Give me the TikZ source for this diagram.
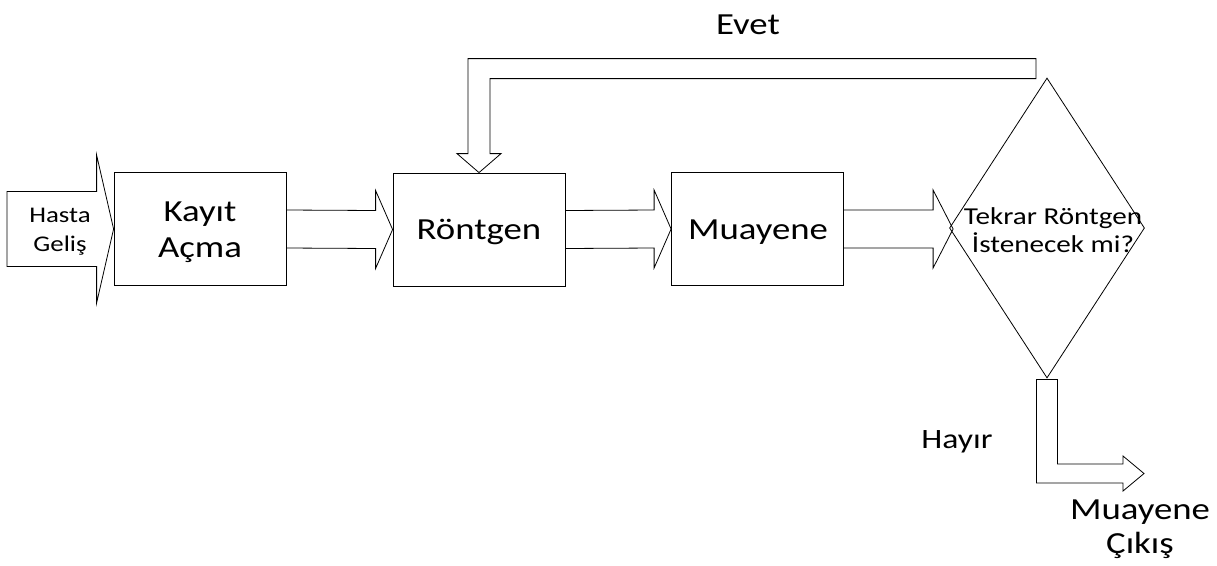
\documentclass[tikz,border=0pt]{standalone}
\usepackage{fontspec}
\setmainfont{Carlito}[FakeStretch=1.2]
\usetikzlibrary{calc,shapes.geometric}

% horizontal block arrow: #1 tail anchor, #2 tip anchor,
% #3 shaft half-width, #4 head half-width, #5 head length
\newcommand\hblockarrow[5]{%
  \draw[blk] ($(#1)+(0,-#3)$) -- ($(#2)+(-#5,-#3)$) -- ($(#2)+(-#5,-#4)$)
    -- (#2) -- ($(#2)+(-#5,#4)$) -- ($(#2)+(-#5,#3)$) -- ($(#1)+(0,#3)$);}

\begin{document}
\begin{tikzpicture}[x=0.75pt,y=-0.75pt,
  blk/.style={draw=black, line width=0.6pt, line join=miter},
  procbox/.style={draw=black, line width=0.6pt, minimum width=129pt,
    minimum height=84.75pt, inner sep=0pt},
  decision/.style={draw=black, line width=0.6pt, diamond, inner sep=0pt,
    minimum width=146.25pt, minimum height=225pt},
  lbl/.style={inner sep=0pt, align=center},
  big/.style={lbl, font=\fontsize{23}{27}\selectfont}]
\useasboundingbox (0,0) rectangle (1217,565);

% process steps
\node[procbox] (kayit) at (200,229) {};
\node[procbox] (ront) at (479,229.5) {};
\node[procbox] (muay) at (757.5,229) {};
\node[decision] (dia) at (1047,228) {};
\node[big] (tkayit) at (200,232) {Kayıt\\Açma};
\node[big] (tront) at (479,232) {Röntgen};
\node[big] (tmuay) at (758,232) {Muayene};
\node[lbl, font=\fontsize{18.2}{21.5}\selectfont] (q) at (1053,230)
  {Tekrar Röntgen\\İstenecek mi?};

% patient arrival arrow
\coordinate (in) at (7,229);
\draw[blk] ($(in)+(0,-37.5)$) -- ($(kayit.west)+(-17,-37.5)$)
  -- ($(kayit.west)+(-17,-74)$) -- (kayit.west)
  -- ($(kayit.west)+(-17,74)$) -- ($(kayit.west)+(-17,37.5)$)
  -- ($(in)+(0,37.5)$) -- cycle;
\node[lbl, font=\fontsize{16.8}{22}\selectfont] (hasta) at (60,232) {Hasta\\Geliş};

% flow between steps
\hblockarrow{kayit.east}{ront.west}{19}{39}{17}
\hblockarrow{ront.east}{muay.west}{19}{39}{17}
\coordinate (dtip) at ($(dia.west)+(4,1)$);
\hblockarrow{muay.east}{dtip}{19}{39}{20}

% "yes" branch back to the X-ray step
\coordinate (fb) at ($(dia.north)+(-11,-9)$);
\draw[blk] ($(fb)+(0,-10)$) -- ($(ront.north |- fb)+(-11,-10)$)
  -- ($(ront.north)+(-11,-19)$) -- ($(ront.north)+(-22,-19)$)
  -- (ront.north) -- ($(ront.north)+(22,-19)$) -- ($(ront.north)+(11,-19)$)
  -- ($(ront.north |- fb)+(11,10)$) -- ($(fb)+(0,10)$) -- cycle;
\node[big] (evet) at (748,25) {Evet};

% "no" branch to exit
\coordinate (exit) at (1144,473.5);
\draw[blk] ($(dia.south)+(-10.5,1)$) -- ($(dia.south)+(10.5,1)$)
  -- ($(dia.south |- exit)+(10.5,-9.5)$) -- ($(exit)+(-21,-9.5)$)
  -- ($(exit)+(-21,-17.5)$) -- (exit) -- ($(exit)+(-21,17.5)$)
  -- ($(exit)+(-21,9.5)$) -- ($(dia.south |- exit)+(-10.5,9.5)$) -- cycle;
\node[lbl, font=\fontsize{21}{24}\selectfont] (hayir) at (957,442) {Hayır};
\node[lbl, font=\fontsize{23}{25.5}\selectfont] (cikis) at (1140,529) {Muayene\\Çıkış};
\end{tikzpicture}
\end{document}
